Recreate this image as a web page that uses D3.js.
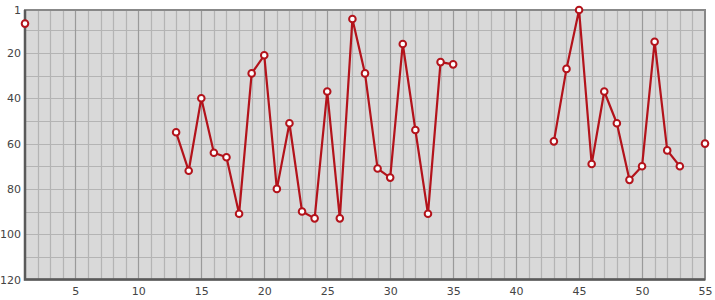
<!DOCTYPE html>
<html><head><meta charset="utf-8">
<script src="https://cdn.jsdelivr.net/npm/d3@7"></script>
<style>body{margin:0;background:#fff}svg{display:block}text{font-family:"DejaVu Sans",Verdana,sans-serif;font-size:11px;fill:#444}</style>
</head><body><svg id="c" width="715" height="300"></svg>
<script>
const xs = [1,13,14,15,16,17,18,19,20,21,22,23,24,25,26,27,28,29,30,31,32,33,34,35,36,43,44,45,46,47,48,49,50,51,52,53,54,55];
const ranks = [7,55,72,40,64,66,91,29,21,80,51,90,93,37,93,5,29,71,75,16,54,91,24,25,null,59,27,1,69,37,51,76,70,15,63,70,null,60];
const xTicks = [5,10,15,20,25,30,35,40,45,50,55];
const yTicks = [1,20,40,60,80,100,120];
const yGrid = [10,20,30,40,50,60,70,80,90,100,110];
const xGrid = d3.range(2,55);
// first point isolated: break between x=1 and x=13
const data = xs.map((x,i)=>({x, v: ranks[i]}));
data.splice(1,0,{x:2,v:null});

const svg = d3.select("#c");
const x = d3.scaleLinear().domain([1,55]).range([25,705]);
const y = d3.scaleLinear().domain([1,120]).range([10,279.5]);

svg.append("rect").attr("x",x(1)).attr("y",y(1)).attr("width",x(55)-x(1)).attr("height",y(120)-y(1)).attr("fill","#d9d9d9");
svg.append("g").selectAll("line").data(yGrid).join("line")
  .attr("x1",x(1)).attr("x2",x(55)).attr("y1",d=>Math.round(y(d))+0.5).attr("y2",d=>Math.round(y(d))+0.5)
  .attr("stroke","#b4b4b4").attr("stroke-width",1.2);
svg.append("g").selectAll("line").data(xGrid).join("line")
  .attr("y1",y(1)).attr("y2",y(120)).attr("x1",d=>Math.round(x(d))+0.5).attr("x2",d=>Math.round(x(d))+0.5)
  .attr("stroke",d=>d%5===0?"#9a9a9a":"#b4b4b4").attr("stroke-width",1.2);

// frame
svg.append("rect").attr("x",x(1)).attr("y",y(1)).attr("width",x(55)-x(1)).attr("height",y(120)-y(1))
  .attr("fill","none").attr("stroke","#888").attr("stroke-width",2);
svg.append("path").attr("d",`M${x(1)},${y(1)}V${y(120)}H${x(55)}`).attr("fill","none").attr("stroke","#5a5a5a").attr("stroke-width",2.5);

// axes labels
const xa = svg.append("g").attr("transform",`translate(0,${y(120)+5})`).call(d3.axisBottom(x).tickValues(xTicks).tickSize(0).tickPadding(3));
xa.select(".domain").remove();
xa.selectAll("text").attr("fill","#444").style("font-size","11px").attr("font-family",null);
const ya = svg.append("g").attr("transform",`translate(${x(1)-2},0)`).call(d3.axisLeft(y).tickValues(yTicks).tickSize(0).tickPadding(2));
ya.select(".domain").remove();
ya.selectAll("text").attr("fill","#444").style("font-size","11px").attr("font-family",null);

const line = d3.line().defined(d=>d.v!=null).x(d=>x(d.x)).y(d=>y(d.v));
svg.append("path").datum(data).attr("d",line).attr("fill","none").attr("stroke","#b3131b").attr("stroke-width",2.2).attr("stroke-linejoin","round");
svg.append("g").selectAll("circle").data(data.filter(d=>d.v!=null)).join("circle")
  .attr("cx",d=>x(d.x)).attr("cy",d=>y(d.v)).attr("r",3.3)
  .attr("fill","#fff").attr("stroke","#b3131b").attr("stroke-width",2);
</script></body></html>
